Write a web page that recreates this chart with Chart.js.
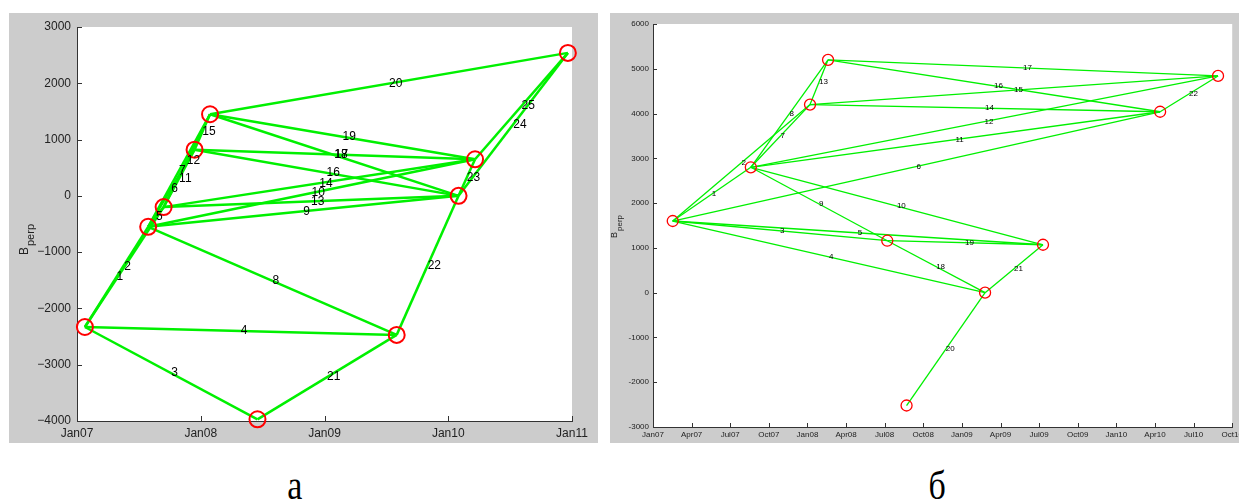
<!DOCTYPE html>
<html>
<head>
<meta charset="utf-8">
<script src="https://cdn.jsdelivr.net/npm/chart.js@4.4.1/dist/chart.umd.min.js"></script>
<style>
  body { margin: 0; background: #fff; width: 1239px; height: 501px; overflow: hidden; position: relative; }
  .frame { position: absolute; background: #cccccc; }
  #frameA { left: 9px; top: 13px; width: 589px; height: 430px; }
  #frameB { left: 610px; top: 13px; width: 629px; height: 430px; }
  .cap { position: absolute; top: 466px; font-family: "Liberation Serif", serif; font-size: 40px; line-height: 40px; transform: scaleX(0.85); }
</style>
</head>
<body>
<div class="frame" id="frameA"><canvas id="chartA" width="589" height="430"></canvas></div>
<div class="frame" id="frameB"><canvas id="chartB" width="629" height="430"></canvas></div>
<div class="cap" style="left:286px">а</div>
<div class="cap" style="left:927px">б</div>
<script>
// chart a : acquisitions (date, perpendicular baseline) and the pairs linking them
const nodeDatesA = ["2007-01-24", "2007-07-28", "2007-09-13", "2007-12-13", "2008-01-28",
  "2008-06-16", "2009-08-01", "2010-02-01", "2010-03-19", "2010-12-19"];
const nodeBperpA = [-2330, -550, -200, 820, 1450, -3970, -2470, 0, 650, 2540];
const edgeFromA = [0, 0, 0, 0, 1, 1, 1, 1, 1, 1, 2, 2, 2, 2, 3, 3, 3, 4, 4, 4, 5, 6, 7, 7, 8];
const edgeToA = [1, 2, 5, 6, 2, 3, 4, 6, 7, 8, 3, 4, 7, 8, 4, 7, 8, 7, 8, 9, 6, 7, 8, 9, 9];
const edgeLabelsA = ["1", "2", "3", "4", "5", "6", "7", "8", "9", "10", "11", "12", "13",
  "14", "15", "16", "17", "18", "19", "20", "21", "22", "23", "24", "25"];
const xTicksA = ["Jan07", "Jan08", "Jan09", "Jan10", "Jan11"];

// chart б
const nodeDatesB = ["2007-02-17", "2007-08-19", "2008-01-07", "2008-02-19", "2008-07-07",
  "2008-08-22", "2009-02-25", "2009-07-10", "2010-04-13", "2010-08-28"];
const nodeBperpB = [1600, 2800, 4200, 5200, 1160, -2520, 0, 1070, 4040, 4840];
const edgeFromB = [0, 0, 0, 0, 0, 0, 1, 1, 1, 1, 1, 1, 2, 2, 2, 3, 3, 4, 4, 5, 6, 8];
const edgeToB = [1, 2, 4, 6, 7, 8, 2, 3, 4, 7, 8, 9, 3, 8, 9, 8, 9, 6, 7, 6, 7, 9];
const edgeLabelsB = ["1", "2", "3", "4", "5", "6", "7", "8", "9", "10", "11", "12", "13",
  "14", "15", "16", "17", "18", "19", "20", "21", "22"];
const xTicksB = ["Jan07", "Apr07", "Jul07", "Oct07", "Jan08", "Apr08", "Jul08", "Oct08",
  "Jan09", "Apr09", "Jul09", "Oct09", "Jan10", "Apr10", "Jul10", "Oct10"];

// months since Jan 2007
const toMonths = (s) => {
  let [y, m, d] = s.split("-").map(Number);
  return (y - 2007) * 12 + (m - 1) + (d - 1) / 30;
};

const makeChart = (canvas, cfg) => {
  let xs = cfg.dates.map(toMonths);
  let points = xs.map((x, i) => ({ x: x, y: cfg.bperp[i] }));

  let datasets = [{
    type: "scatter",
    data: points,
    pointRadius: cfg.radius,
    pointBorderWidth: cfg.ringWidth,
    pointBorderColor: "#ff0000",
    pointBackgroundColor: "rgba(0,0,0,0)",
    clip: false,
  }];
  for (let k = 0; k < cfg.from.length; k++) {
    datasets.push({
      type: "line",
      data: [points[cfg.from[k]], points[cfg.to[k]]],
      borderColor: "#00f000",
      borderWidth: cfg.lineWidth,
      pointRadius: 0,
      clip: false,
    });
  }

  // white plot area, inward ticks, pair numbers, y title
  let decor = {
    id: "decor",
    beforeDraw: (chart) => {
      let a = chart.chartArea;
      chart.ctx.save();
      chart.ctx.fillStyle = "#fff";
      chart.ctx.fillRect(a.left, a.top, a.right - a.left, a.bottom - a.top);
      chart.ctx.restore();
    },
    afterDraw: (chart) => {
      let ctx = chart.ctx;
      let a = chart.chartArea;
      let sx = chart.scales.x;
      let sy = chart.scales.y;
      ctx.save();
      ctx.strokeStyle = "#333";
      ctx.lineWidth = 1;
      ctx.beginPath();
      sx.ticks.forEach((t) => {
        let px = Math.round(sx.getPixelForValue(t.value)) + 0.5;
        ctx.moveTo(px, a.bottom);
        ctx.lineTo(px, a.bottom - cfg.tick);
      });
      sy.ticks.forEach((t) => {
        let py = Math.round(sy.getPixelForValue(t.value)) + 0.5;
        ctx.moveTo(a.left, py);
        ctx.lineTo(a.left + cfg.tick, py);
      });
      ctx.stroke();

      ctx.fillStyle = "#000";
      ctx.font = cfg.labelFont + "px 'Liberation Sans', Arial, sans-serif";
      ctx.textAlign = "left";
      ctx.textBaseline = "middle";
      for (let k = 0; k < cfg.from.length; k++) {
        let p = points[cfg.from[k]];
        let q = points[cfg.to[k]];
        let mx = sx.getPixelForValue((p.x + q.x) / 2);
        let my = sy.getPixelForValue((p.y + q.y) / 2);
        ctx.fillText(cfg.labels[k], mx, my);
      }

      // B with subscript perp, turned upward
      ctx.translate(cfg.title[0], cfg.title[1]);
      ctx.rotate(-Math.PI / 2);
      ctx.fillStyle = "#222";
      ctx.textBaseline = "alphabetic";
      ctx.font = cfg.titleFont + "px 'Liberation Sans', Arial, sans-serif";
      ctx.fillText("B", 0, 0);
      let w = ctx.measureText("B").width;
      ctx.font = (cfg.titleFont - 1) + "px 'Liberation Sans', Arial, sans-serif";
      ctx.fillText("perp", w + 1, cfg.titleFont * 0.5);
      ctx.restore();
    },
  };

  let tickFont = { family: "'Liberation Sans', Arial, sans-serif", size: cfg.tickFont };

  return new Chart(canvas, {
    type: "scatter",
    data: { datasets: datasets },
    plugins: [decor],
    options: {
      responsive: false,
      animation: false,
      events: [],
      layout: { padding: { top: cfg.pad[0], right: cfg.pad[1], bottom: 0, left: 0 } },
      plugins: { legend: { display: false }, tooltip: { enabled: false } },
      scales: {
        x: {
          type: "linear",
          min: 0,
          max: cfg.xMax,
          grid: { display: false, drawTicks: false },
          border: { display: true, color: "#333", width: 1 },
          ticks: {
            stepSize: cfg.xStep,
            padding: cfg.xPad,
            color: "#222",
            font: tickFont,
            maxRotation: 0,
            autoSkip: false,
            callback: (v) => cfg.xTicks[Math.round(v / cfg.xStep)],
          },
          afterFit: (s) => { s.height = cfg.xHeight; s.paddingLeft = 0; s.paddingRight = 0; },
        },
        y: {
          min: cfg.yMin,
          max: cfg.yMax,
          grid: { display: false, drawTicks: false },
          border: { display: true, color: "#333", width: 1 },
          ticks: {
            stepSize: 1000,
            padding: cfg.yPad,
            color: "#222",
            font: tickFont,
            callback: (v) => (v < 0 ? cfg.minus : "") + Math.abs(v),
          },
          afterFit: (s) => { s.width = cfg.yWidth; s.paddingTop = 0; s.paddingBottom = 0; },
        },
      },
    },
  });
};

makeChart(document.querySelector("#chartA"), {
  dates: nodeDatesA, bperp: nodeBperpA, from: edgeFromA, to: edgeToA, labels: edgeLabelsA,
  xTicks: xTicksA, xMax: 48, xStep: 12, yMin: -4000, yMax: 3000, minus: "\u2212",
  radius: 8, ringWidth: 2, lineWidth: 2.5, tick: 5,
  labelFont: 12, tickFont: 12, titleFont: 12, title: [19, 242],
  pad: [14, 26], xHeight: 22, yWidth: 68, xPad: 5, yPad: 6,
});

makeChart(document.querySelector("#chartB"), {
  dates: nodeDatesB, bperp: nodeBperpB, from: edgeFromB, to: edgeToB, labels: edgeLabelsB,
  xTicks: xTicksB, xMax: 45, xStep: 3, yMin: -3000, yMax: 6000, minus: "-",
  radius: 5.5, ringWidth: 1.3, lineWidth: 1.3, tick: 4,
  labelFont: 8, tickFont: 8, titleFont: 9, title: [7, 225],
  pad: [11, 5], xHeight: 16, yWidth: 43, xPad: 3, yPad: 4,
});
</script>
</body>
</html>
